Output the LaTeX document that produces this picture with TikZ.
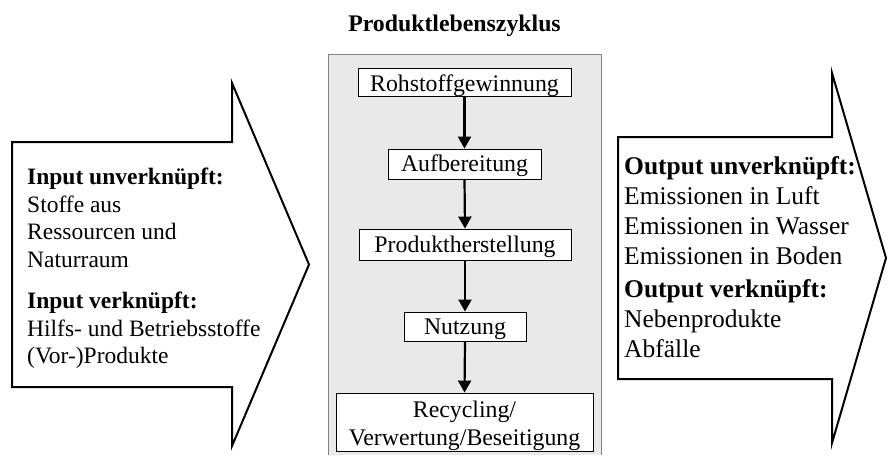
\documentclass[tikz,border=0pt]{standalone}
\usepackage{fontspec}
\setmainfont{Liberation Serif}
\usetikzlibrary{arrows.meta}
\definecolor{panelgray}{RGB}{233,233,233}
\definecolor{panelline}{RGB}{130,130,130}
\tikzset{
  stepbox/.style={draw=black, line width=0.9pt, fill=white, inner sep=0pt,
    font=\fontsize{23.8}{28}\selectfont},
  flow/.style={line width=2.2pt, -{Triangle[width=13pt,length=12pt]}},
  bigarrow/.style={draw=black, line width=2pt, fill=white, line join=miter},
  leftlist/.style={anchor=north west, inner sep=0pt, align=left,
    font=\fontsize{23.5}{27.5}\selectfont},
  rightlist/.style={anchor=north west, inner sep=0pt, align=left,
    font=\fontsize{25.5}{30}\selectfont},
}
\begin{document}
\begin{tikzpicture}[x=1pt,y=-1pt]
\useasboundingbox (0,0) rectangle (888,455);
% title
\node[font=\fontsize{23.8}{26}\selectfont\bfseries, inner sep=0pt] (title) at (454.5,26) {Produktlebenszyklus};
% central panel
\fill[panelgray] (328,54) rectangle (601,455);
\draw[panelline, line width=1pt] (328,455) -- (328,54) -- (601,54) -- (601,455);
% steps
\node[stepbox, minimum width=213pt, text height=23pt, text depth=5pt] (s1) at (464.5,82) {Rohstoffgewinnung};
\node[stepbox, minimum width=153pt, text height=22.5pt, text depth=7.5pt] (s2) at (464.5,164) {Aufbereitung};
\node[stepbox, minimum width=212pt, text height=23.5pt, text depth=7.5pt] (s3) at (465,244.5) {Produktherstellung};
\node[stepbox, minimum width=122pt, text height=22pt, text depth=7pt] (s4) at (465,326.5) {Nutzung};
\node[stepbox, align=center, minimum width=257pt, text height=52pt, text depth=6pt] (s5) at (464.5,422) {Recycling/\\Verwertung/Beseitigung};
\draw[flow] (s1.south) -- (s2.north);
\draw[flow] (s2.south) -- (s3.north);
\draw[flow] (s3.south) -- (s4.north);
\draw[flow] (s4.south) -- (s5.north);
% left arrow
\draw[bigarrow] (12,142) -- (232,142) -- (232,83) -- (309,264.5) -- (232,446) -- (232,387) -- (12,387) -- cycle;
\node[leftlist] (intext) at (27,168) {\textbf{Input unverknüpft:}\\Stoffe aus\\Ressourcen und\\Naturraum\\[14pt]\textbf{Input verknüpft:}\\Hilfs- und Betriebsstoffe\\(Vor-)Produkte};
% right arrow
\draw[bigarrow] (618,137) -- (832,137) -- (832,73) -- (886,258) -- (832,443) -- (832,379) -- (618,379) -- cycle;
\node[rightlist] (outtext) at (624,156) {\textbf{Output unverknüpft:}\\Emissionen in Luft\\Emissionen in Wasser\\Emissionen in Boden\\[3pt]\textbf{Output verknüpft:}\\Nebenprodukte\\Abfälle};
\end{tikzpicture}
\end{document}
